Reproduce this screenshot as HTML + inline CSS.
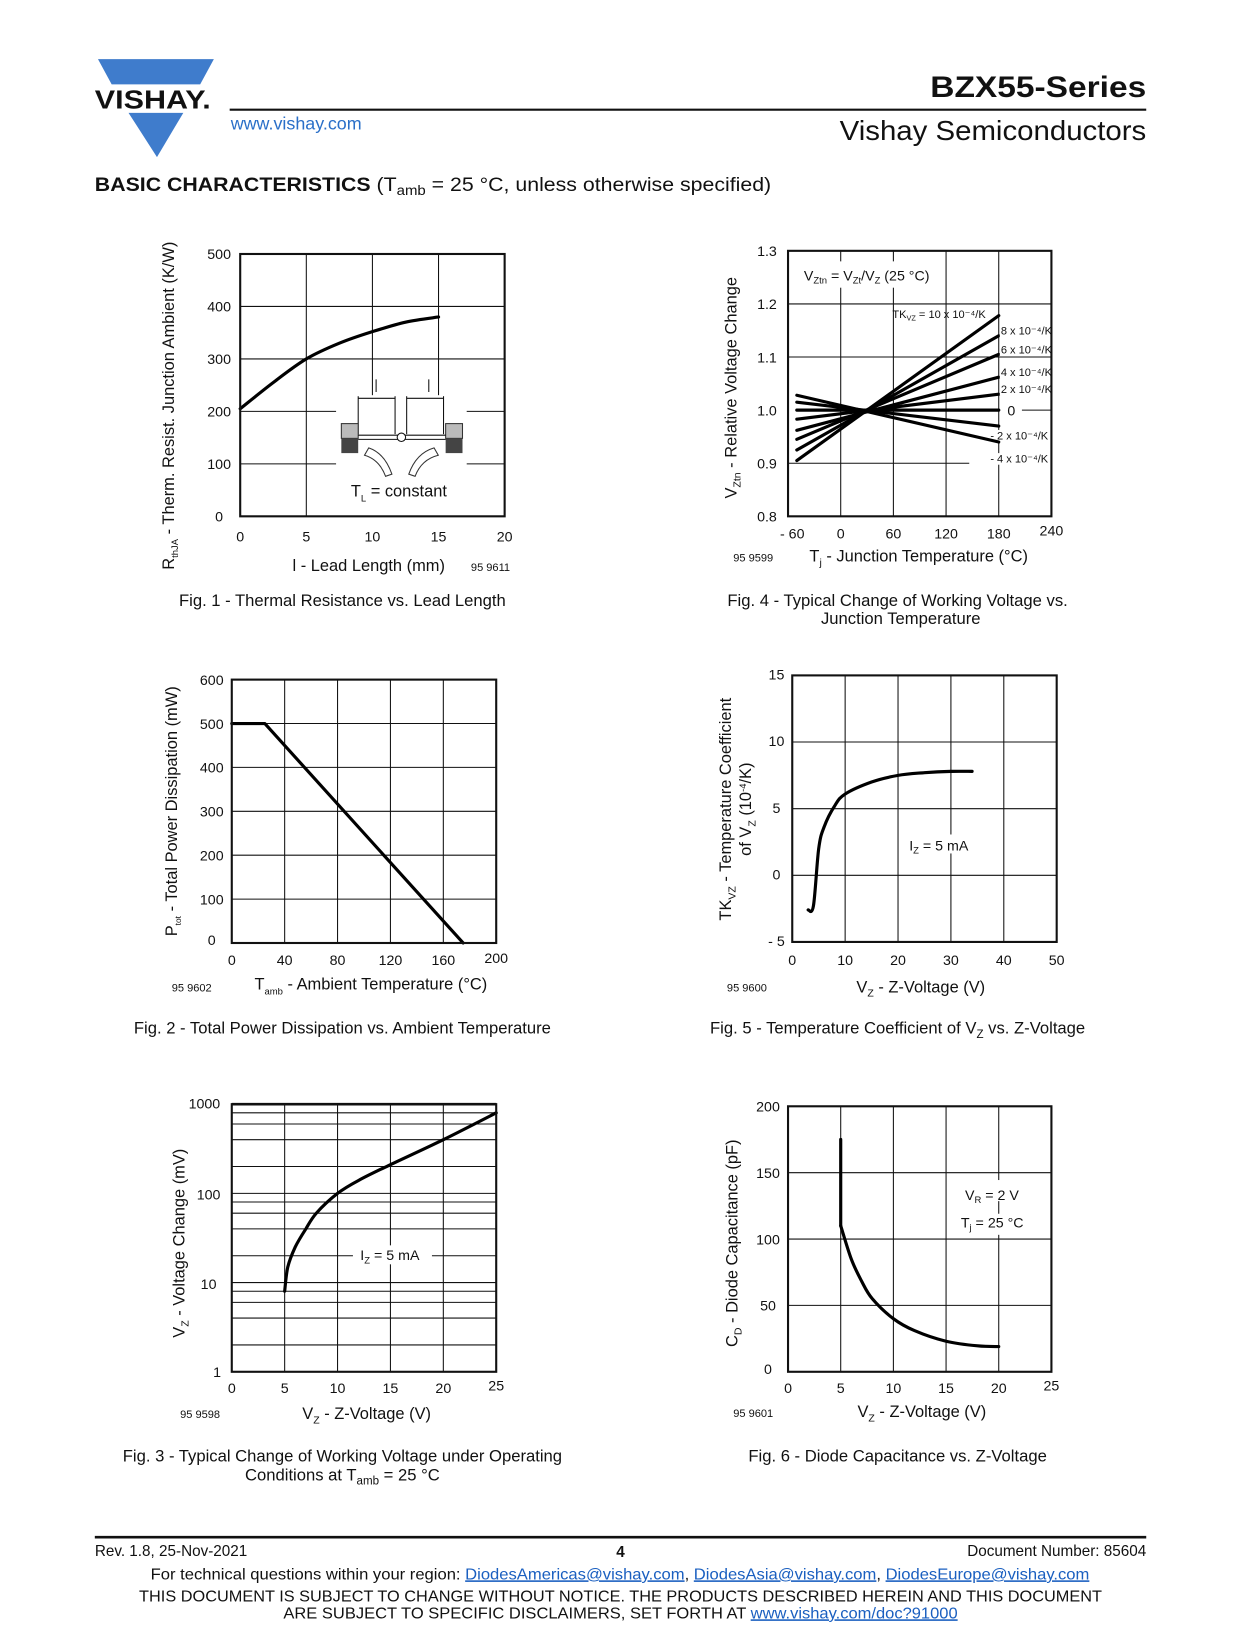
<!DOCTYPE html>
<html><head><meta charset="utf-8"><style>
html,body{margin:0;padding:0;background:#fff}
svg{display:block}
text{font-family:"Liberation Sans",sans-serif;fill:#111}
.t{font-size:13.5px}
.g{stroke:#111;stroke-width:1;fill:none}
.f{stroke:#111;stroke-width:2;fill:none}
.c{stroke:#000;stroke-width:3;fill:none;stroke-linecap:round;stroke-linejoin:round}
.cap{font-size:15.8px}
.lab{font-size:15.6px}
.sm{font-size:10.5px}
</style></head><body>
<svg id="page" width="1240" height="1650" viewBox="0 0 1177 1566" xmlns="http://www.w3.org/2000/svg">
<g>
 <polygon points="93,56 203,56 190,80 106,80" fill="#3f7ccc"/>
 <text x="90" y="103" font-size="25" font-weight="bold" textLength="110" lengthAdjust="spacingAndGlyphs">VISHAY.</text>
 <polygon points="122,107 174,107 149,149" fill="#3f7ccc"/>
 <text x="219" y="123" font-size="17" style="fill:#2a6fc8">www.vishay.com</text>
 <line x1="218" y1="104" x2="1088" y2="104" stroke="#111" stroke-width="2"/>
 <text x="883" y="92" font-size="28" font-weight="bold" textLength="205" lengthAdjust="spacingAndGlyphs">BZX55-Series</text>
 <text x="797" y="133" font-size="26" textLength="291" lengthAdjust="spacingAndGlyphs">Vishay Semiconductors</text>
 <text x="90" y="181" font-size="18.5" textLength="642" lengthAdjust="spacingAndGlyphs"><tspan font-weight="bold">BASIC CHARACTERISTICS</tspan> (T<tspan font-size="13" dy="4">amb</tspan><tspan dy="-4"> = 25 °C, unless otherwise specified)</tspan></text>
</g>
<g id="charts"></g>
<g>
 <line x1="90" y1="1459" x2="1088" y2="1459" stroke="#111" stroke-width="2.5"/>
 <text x="90" y="1477" font-size="14.5">Rev. 1.8, 25-Nov-2021</text>
 <text x="589" y="1478" font-size="14.5" font-weight="bold" text-anchor="middle">4</text>
 <text x="1088" y="1477" font-size="14.5" text-anchor="end">Document Number: 85604</text>
 <text x="143" y="1499" font-size="15" textLength="891" lengthAdjust="spacingAndGlyphs">For technical questions within your region: <tspan style="fill:#1a5fc0;text-decoration:underline">DiodesAmericas@vishay.com</tspan>, <tspan style="fill:#1a5fc0;text-decoration:underline">DiodesAsia@vishay.com</tspan>, <tspan style="fill:#1a5fc0;text-decoration:underline">DiodesEurope@vishay.com</tspan></text>
 <text x="132" y="1520" font-size="15" textLength="914" lengthAdjust="spacingAndGlyphs">THIS DOCUMENT IS SUBJECT TO CHANGE WITHOUT NOTICE. THE PRODUCTS DESCRIBED HEREIN AND THIS DOCUMENT</text>
 <text x="269" y="1536" font-size="15" textLength="640" lengthAdjust="spacingAndGlyphs">ARE SUBJECT TO SPECIFIC DISCLAIMERS, SET FORTH AT <tspan style="fill:#1a5fc0;text-decoration:underline">www.vishay.com/doc?91000</tspan></text>
</g>
</svg>
<script>
// Fig 1 data
const f1X=[0,2.5,5,7.5,10,12.5,15];
const f1Y=[205,255,300,330,352,370,380];
const f1XTicks=[0,5,10,15,20];
const f1YTicks=[0,100,200,300,400,500];
// Fig 2 data
const f2X=[0,25,175];
const f2Y=[500,500,0];
const f2XTicks=[0,40,80,120,160,200];
const f2YTicks=[0,100,200,300,400,500,600];
// Fig 3 data
const f3X=[5,5.3,6,7,8,10,12,15,20,25];
const f3Y=[8,15,25,40,60,100,140,210,400,800];
const f3XTicks=[0,5,10,15,20,25];
const f3YTicks=[1,10,100,1000];
// Fig 4 data
const f4Labels=["10","8","6","4","2","0","-2","-4"];
const f4Start=[0.905,0.925,0.945,0.962,0.983,1.0,1.015,1.028];
const f4End=[1.178,1.14,1.105,1.062,1.03,1.0,0.97,0.94];
const f4TStart=-50, f4TEnd=180;
const f4XTicks=[-60,0,60,120,180,240];
const f4YTicks=[0.8,0.9,1.0,1.1,1.2,1.3];
// Fig 5 data
const f5X=[3,4,5,6,8,10,15,20,25,30,34];
const f5Y=[-2.6,-2.3,2,3.6,5.2,6.1,7,7.5,7.7,7.8,7.8];
const f5XTicks=[0,10,20,30,40,50];
const f5YTicks=[-5,0,5,10,15];
// Fig 6 data
const f6X=[5,5,6,7,8,10,12,15,18,20];
const f6Y=[175,110,85,68,55,40,31,23,19.5,19];
const f6XTicks=[0,5,10,15,20,25];
const f6YTicks=[0,50,100,150,200];

const NS="http://www.w3.org/2000/svg";
const root=document.getElementById('charts');
function el(tag,attrs,parent,txt){const e=document.createElementNS(NS,tag);for(const k in attrs)e.setAttribute(k,attrs[k]);if(txt!=null)e.textContent=txt;(parent||root).appendChild(e);return e;}
function lin(d0,d1,r0,r1){return v=>r0+(v-d0)*(r1-r0)/(d1-d0);}
function logs(d0,d1,r0,r1){return v=>r0+(Math.log10(v)-Math.log10(d0))*(r1-r0)/(Math.log10(d1)-Math.log10(d0));}
function poly(g,xs,ys,sx,sy,name,smooth){
 const P=xs.map((x,i)=>[sx(x),sy(ys[i])]);
 let d='M'+P[0][0].toFixed(1)+','+P[0][1].toFixed(1);
 for(let i=0;i<P.length-1;i++){
  if(!smooth){d+='L'+P[i+1][0].toFixed(1)+','+P[i+1][1].toFixed(1);continue;}
  const p0=P[Math.max(i-1,0)],p1=P[i],p2=P[i+1],p3=P[Math.min(i+2,P.length-1)];
  const c1=[p1[0]+(p2[0]-p0[0])/6,p1[1]+(p2[1]-p0[1])/6],c2=[p2[0]-(p3[0]-p1[0])/6,p2[1]-(p3[1]-p1[1])/6];
  d+='C'+c1[0].toFixed(1)+','+c1[1].toFixed(1)+' '+c2[0].toFixed(1)+','+c2[1].toFixed(1)+' '+p2[0].toFixed(1)+','+p2[1].toFixed(1);
 }
 const p=el('path',{d:d,class:'c'},g);
 
 
 return p;}
function frame(g,x0,y0,x1,y1){const r=el('rect',{x:x0,y:y0,width:x1-x0,height:y1-y0,class:'f'},g);

}
function txt(g,x,y,s,cls,anchor,name){const t=el('text',{x:x,y:y,class:cls||'t','text-anchor':anchor||'middle'},g,s);


return t;}
function grp(name){const g=el('g',{});


return g;}

// ---------- Fig 1 ----------
(function(){const g=grp('fig1-thermal-resistance');
const X0=228,X1=479,Y0=241,Y1=490;const sx=lin(0,20,X0,X1),sy=lin(0,500,Y1,Y0);
f1XTicks.forEach(v=>{if(v>0&&v<20)el('line',{x1:sx(v),y1:Y0,x2:sx(v),y2:Y1,class:'g'},g);txt(g,sx(v),514,v,'t','middle','x-tick');});
f1YTicks.forEach(v=>{if(v>0&&v<500){if(v==100||v==200){el('line',{x1:X0,y1:sy(v),x2:319,y2:sy(v),class:'g',"stroke-width":v==200?2:1},g);el('line',{x1:443,y1:sy(v),x2:X1,y2:sy(v),class:'g',"stroke-width":v==200?2:1},g);}else el('line',{x1:X0,y1:sy(v),x2:X1,y2:sy(v),class:'g'},g);}txt(g,208,sy(v)+5,v,'t','middle','y-tick');});
const ins=grp('fig1-inset');g.appendChild(ins);
el('rect',{x:340,y:375,width:90,height:120,fill:'#fff'},ins);
el('line',{x1:340,y1:376,x2:340,y2:412,class:'g'},ins);el('line',{x1:375,y1:376,x2:375,y2:412,class:'g'},ins);
el('line',{x1:386,y1:376,x2:386,y2:412,class:'g'},ins);el('line',{x1:421,y1:376,x2:421,y2:412,class:'g'},ins);
el('line',{x1:340,y1:378,x2:375,y2:378,class:'g'},ins);el('line',{x1:386,y1:378,x2:421,y2:378,class:'g'},ins);
el('line',{x1:357,y1:360,x2:357,y2:372,class:'g'},ins);el('line',{x1:407,y1:360,x2:407,y2:372,class:'g'},ins);
el('rect',{x:324,y:402,width:16,height:14,fill:'#bbb',stroke:'#333'},ins);el('rect',{x:324,y:416,width:16,height:14,fill:'#444'},ins);
el('rect',{x:423,y:402,width:16,height:14,fill:'#bbb',stroke:'#333'},ins);el('rect',{x:423,y:416,width:16,height:14,fill:'#444'},ins);
el('line',{x1:340,y1:413,x2:423,y2:413,class:'g'},ins);el('line',{x1:340,y1:417,x2:423,y2:417,class:'g'},ins);
el('circle',{cx:381,cy:415,r:4,fill:'#fff',stroke:'#111'},ins);
el('path',{d:'M372,450 Q365,430 350,425 L346,432 Q360,436 366,452 Z',fill:'#fff',stroke:'#333'},ins);
el('path',{d:'M388,450 Q395,430 412,425 L416,432 Q400,436 394,452 Z',fill:'#fff',stroke:'#333'},ins);
const tl=txt(g,333,471,'','lab','start','inset-label');tl.innerHTML='T<tspan font-size="9" dy="5">L</tspan><tspan dy="-5"> = constant</tspan>';
poly(g,f1X,f1Y,sx,sy,'thermal-resistance-curve',true);
frame(g,X0,Y0,X1,Y1);
const yl=txt(g,0,0,'','lab','middle','y-axis-title');yl.setAttribute('transform','translate(165,385) rotate(-90)');yl.innerHTML='R<tspan font-size="9" dy="4">thJA</tspan><tspan dy="-4"> - Therm. Resist. Junction Ambient (K/W)</tspan>';
txt(g,350,542,'l - Lead Length (mm)','lab','middle','x-axis-title');txt(g,447,542,'95 9611','sm','start','figure-code');
txt(g,325,575,'Fig. 1 - Thermal Resistance vs. Lead Length','cap','middle','caption');})();

// ---------- Fig 4 ----------
(function(){const g=grp('fig4-relative-voltage-change');
const X0=748,X1=998,Y0=238,Y1=490;const sx=lin(-60,240,X0,X1),sy=lin(0.8,1.3,Y1,Y0);
f4XTicks.forEach(v=>{if(v>-60&&v<240)el('line',{x1:sx(v),y1:Y0,x2:sx(v),y2:Y1,class:'g'},g);txt(g,sx(v)+(v==-60?4:0),v==240?508:511,v<0?'- '+(-v):v,'t','middle','x-tick');});
f4YTicks.forEach(v=>{if(v>0.81&&v<1.29&&Math.abs(v-1)>0.01)el('line',{x1:X0,y1:sy(v),x2:v<0.95?920:X1,y2:sy(v),class:'g'},g);txt(g,728,sy(v)+5,v.toFixed(1),'t','middle','y-tick');});
el('line',{x1:970,y1:sy(1),x2:X1,y2:sy(1),class:'g'},g);
el('rect',{x:755,y:248,width:140,height:25,fill:'#fff'},g);
const lb=txt(g,763,266,'','t','start','formula-label');lb.innerHTML='V<tspan font-size="9" dy="3">Ztn</tspan><tspan dy="-3"> = V</tspan><tspan font-size="9" dy="3">Zt</tspan><tspan dy="-3">/V</tspan><tspan font-size="9" dy="3">Z</tspan><tspan dy="-3"> (25 °C)</tspan>';
f4Labels.forEach((l,i)=>{const p=el('line',{x1:sx(f4TStart),y1:sy(f4Start[i]),x2:sx(f4TEnd),y2:sy(f4End[i]),class:'c'},g);


let yy=sy(f4End[i]);
if(l==='10'){const t=txt(g,847,302,'','sm','start','tk-label');t.innerHTML='TK<tspan font-size="7" dy="2">VZ</tspan><tspan dy="-2"> = 10 x 10⁻⁴/K</tspan>';}
else if(l==='0'){txt(g,960,yy+5,'0','t','middle','tk-label');}
else{el('rect',{x:l[0]=='-'?939:949,y:(l=='-2'?417:(l=='-4'?439:yy-1))-9,width:50,height:11,fill:'#fff'},g);txt(g,l[0]=='-'?940:950,l=='-2'?417:(l=='-4'?439:yy-1),(l[0]=='-'?'- '+l.slice(1):l)+' x 10⁻⁴/K','sm','start','tk-label');}
});
frame(g,X0,Y0,X1,Y1);
const yl=txt(g,0,0,'','lab','middle','y-axis-title');yl.setAttribute('transform','translate(699,368) rotate(-90)');yl.innerHTML='V<tspan font-size="10" dy="4">Ztn</tspan><tspan dy="-4"> - Relative Voltage Change</tspan>';
const xl=txt(g,872,533,'','lab','middle','x-axis-title');xl.innerHTML='T<tspan font-size="10" dy="4">j</tspan><tspan dy="-4"> - Junction Temperature (°C)</tspan>';
txt(g,696,533,'95 9599','sm','start','figure-code');
txt(g,852,575,'Fig. 4 - Typical Change of Working Voltage vs.','cap','middle','caption');
txt(g,855,592,'Junction Temperature','cap','middle','caption');})();

// ---------- Fig 2 ----------
(function(){const g=grp('fig2-power-dissipation');
const X0=220,X1=471,Y0=645,Y1=895;const sx=lin(0,200,X0,X1),sy=lin(0,600,Y1,Y0);
f2XTicks.forEach(v=>{if(v>0&&v<200)el('line',{x1:sx(v),y1:Y0,x2:sx(v),y2:Y1,class:'g'},g);txt(g,sx(v),v==200?914:916,v,'t','middle','x-tick');});
f2YTicks.forEach(v=>{if(v>0&&v<600)el('line',{x1:X0,y1:sy(v),x2:X1,y2:sy(v),class:'g'},g);txt(g,201,sy(v)+(v==0?2:5),v,'t','middle','y-tick');});
poly(g,f2X,f2Y,sx,sy,'power-derating-line',false);frame(g,X0,Y0,X1,Y1);
const yl=txt(g,0,0,'','lab','middle','y-axis-title');yl.setAttribute('transform','translate(168,770) rotate(-90)');yl.innerHTML='P<tspan font-size="8" dy="4">tot</tspan><tspan dy="-4"> - Total Power Dissipation (mW)</tspan>';
const xl=txt(g,352,939,'','lab','middle','x-axis-title');xl.innerHTML='T<tspan font-size="9" dy="5">amb</tspan><tspan dy="-5"> - Ambient Temperature (°C)</tspan>';
txt(g,163,941,'95 9602','sm','start','figure-code');
txt(g,325,981,'Fig. 2 - Total Power Dissipation vs. Ambient Temperature','cap','middle','caption');})();

// ---------- Fig 5 ----------
(function(){const g=grp('fig5-temperature-coefficient');
const X0=752,X1=1003,Y0=641,Y1=894;const sx=lin(0,50,X0,X1),sy=lin(-5,15,Y1,Y0);
f5XTicks.forEach(v=>{if(v>0&&v<50)el('line',{x1:sx(v),y1:Y0,x2:sx(v),y2:Y1,class:'g'},g);txt(g,sx(v),916,v,'t','middle','x-tick');});
f5YTicks.forEach(v=>{if(v>-5&&v<15)el('line',{x1:X0,y1:sy(v),x2:X1,y2:sy(v),class:'g'},g);txt(g,737,sy(v)+4,v<0?'- '+(-v):v,'t','middle','y-tick');});
el('rect',{x:860,y:792,width:66,height:18,fill:'#fff'},g);
const lb=txt(g,863,807,'','t','start','current-label');lb.innerHTML='I<tspan font-size="9" dy="3">Z</tspan><tspan dy="-3"> = 5 mA</tspan>';
poly(g,f5X,f5Y,sx,sy,'tkvz-curve',true);frame(g,X0,Y0,X1,Y1);
const yl=txt(g,0,0,'','lab','middle','y-axis-title');yl.setAttribute('transform','translate(694,768) rotate(-90)');yl.innerHTML='TK<tspan font-size="10" dy="4">VZ</tspan><tspan dy="-4"> - Temperature Coefficient</tspan>';
const y2=txt(g,0,0,'','lab','middle','y-axis-title-2');y2.setAttribute('transform','translate(713,768) rotate(-90)');y2.innerHTML='of V<tspan font-size="10" dy="4">Z</tspan><tspan dy="-4"> (10</tspan><tspan font-size="9" dy="-5">-4</tspan><tspan dy="5">/K)</tspan>';
const xl=txt(g,874,942,'','lab','middle','x-axis-title');xl.innerHTML='V<tspan font-size="10" dy="4">Z</tspan><tspan dy="-4"> - Z-Voltage (V)</tspan>';
txt(g,690,941,'95 9600','sm','start','figure-code');
const c=txt(g,852,981,'','cap','middle','caption');c.innerHTML='Fig. 5 - Temperature Coefficient of V<tspan font-size="11" dy="4">Z</tspan><tspan dy="-4"> vs. Z-Voltage</tspan>';})();

// ---------- Fig 3 ----------
(function(){const g=grp('fig3-voltage-change');
const X0=220,X1=471,Y0=1048,Y1=1302;const sx=lin(0,25,X0,X1),sy=logs(1,1000,Y1,Y0);
f3XTicks.forEach(v=>{if(v>0&&v<25)el('line',{x1:sx(v),y1:Y0,x2:sx(v),y2:Y1,class:'g'},g);txt(g,sx(v),v==25?1320:1322,v,'t','middle','x-tick');});
[1,10,100].forEach(d=>{[2,4,6,8].forEach(m=>{const v=d*m,yy=sy(v);if(v==20){el('line',{x1:X0,y1:yy,x2:335,y2:yy,class:'g'},g);el('line',{x1:410,y1:yy,x2:X1,y2:yy,class:'g'},g);}else el('line',{x1:X0,y1:yy,x2:X1,y2:yy,class:'g','stroke-width':m==8?1.6:1},g);});});
f3YTicks.forEach(v=>{if(v>1&&v<1000)el('line',{x1:X0,y1:sy(v),x2:X1,y2:sy(v),class:'g','stroke-width':2},g);txt(g,v==1?206:(v==1000?194:198),sy(v)+(v==1000?4:(v==1?5:6)),v,'t','middle','y-tick');});
el('line',{x1:X0,y1:sy(1000),x2:X1,y2:sy(1000),stroke:'#111','stroke-width':2.5},g);
el('rect',{x:339,y:1182,width:68,height:18,fill:'#fff'},g);
const lb=txt(g,342,1196,'','t','start','current-label');lb.innerHTML='I<tspan font-size="9" dy="3">Z</tspan><tspan dy="-3"> = 5 mA</tspan>';
poly(g,f3X,f3Y,sx,sy,'voltage-change-curve',true);frame(g,X0,Y0,X1,Y1);
const yl=txt(g,0,0,'','lab','middle','y-axis-title');yl.setAttribute('transform','translate(175,1180) rotate(-90)');yl.innerHTML='V<tspan font-size="10" dy="4">Z</tspan><tspan dy="-4"> - Voltage Change (mV)</tspan>';
const xl=txt(g,348,1347,'','lab','middle','x-axis-title');xl.innerHTML='V<tspan font-size="10" dy="4">Z</tspan><tspan dy="-4"> - Z-Voltage (V)</tspan>';
txt(g,171,1346,'95 9598','sm','start','figure-code');
txt(g,325,1387,'Fig. 3 - Typical Change of Working Voltage under Operating','cap','middle','caption');
const c=txt(g,325,1405,'','cap','middle','caption');c.innerHTML='Conditions at T<tspan font-size="11" dy="4">amb</tspan><tspan dy="-4"> = 25 °C</tspan>';})();

// ---------- Fig 6 ----------
(function(){const g=grp('fig6-diode-capacitance');
const X0=748,X1=998,Y0=1050,Y1=1302;const sx=lin(0,25,X0,X1),sy=lin(0,200,Y1,Y0);
f6XTicks.forEach(v=>{if(v>0&&v<25)el('line',{x1:sx(v),y1:Y0,x2:sx(v),y2:Y1,class:'g'},g);txt(g,sx(v),v==25?1320:1322,v,'t','middle','x-tick');});
f6YTicks.forEach(v=>{if(v>0&&v<200)el('line',{x1:X0,y1:sy(v),x2:X1,y2:sy(v),class:'g'},g);txt(g,729,sy(v)+(v==0?2:5),v,'t','middle','y-tick');});
el('rect',{x:905,y:1120,width:80,height:52,fill:'#fff'},g);
el('line',{x1:sx(20),y1:1140,x2:sx(20),y2:1152,class:'g'},g);
const a=txt(g,916,1139,'','t','start','reverse-voltage-label');a.innerHTML='V<tspan font-size="9" dy="3">R</tspan><tspan dy="-3"> = 2 V</tspan>';
const b=txt(g,912,1165,'','t','start','junction-temp-label');b.innerHTML='T<tspan font-size="9" dy="3">j</tspan><tspan dy="-3"> = 25 °C</tspan>';
poly(g,f6X.slice(0,2),f6Y.slice(0,2),sx,sy,'capacitance-vertical-segment',false);
poly(g,f6X.slice(1),f6Y.slice(1),sx,sy,'capacitance-curve',true);frame(g,X0,Y0,X1,Y1);
const yl=txt(g,0,0,'','lab','middle','y-axis-title');yl.setAttribute('transform','translate(700,1180) rotate(-90)');yl.innerHTML='C<tspan font-size="10" dy="4">D</tspan><tspan dy="-4"> - Diode Capacitance (pF)</tspan>';
const xl=txt(g,875,1345,'','lab','middle','x-axis-title');xl.innerHTML='V<tspan font-size="10" dy="4">Z</tspan><tspan dy="-4"> - Z-Voltage (V)</tspan>';
txt(g,696,1345,'95 9601','sm','start','figure-code');
txt(g,852,1387,'Fig. 6 - Diode Capacitance vs. Z-Voltage','cap','middle','caption');})();
</script>
</body></html>
